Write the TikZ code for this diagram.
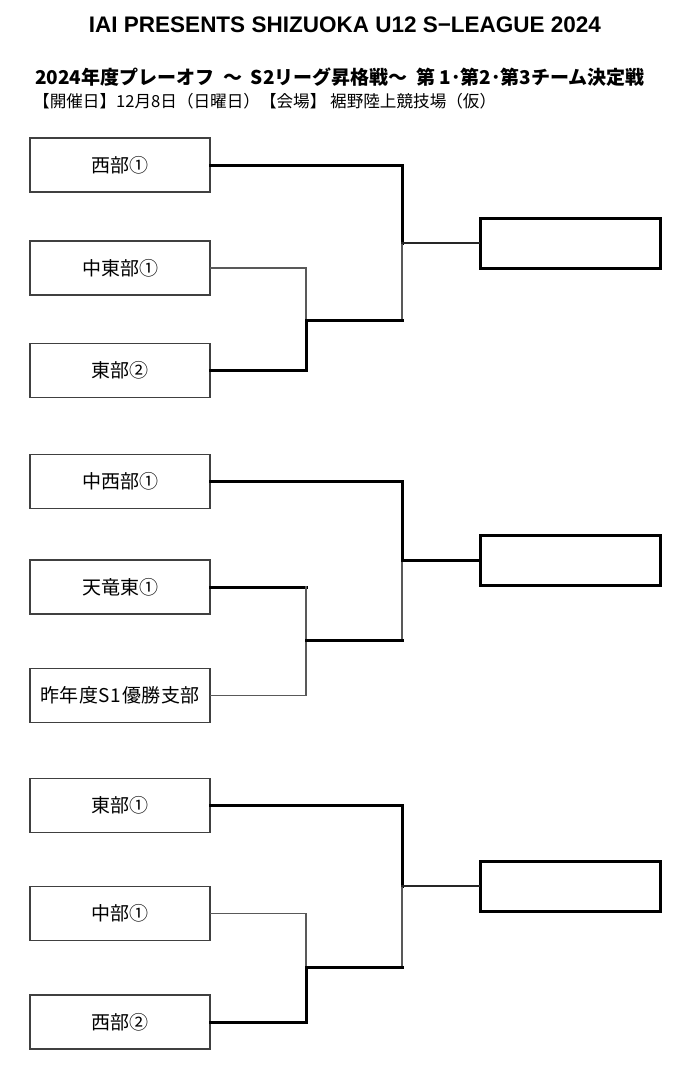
\documentclass[tikz,border=0pt]{standalone}
\usepackage{fontspec}
\setmainfont{Liberation Sans}
\newfontfamily\jp{Noto Sans CJK JP}
\begin{document}
\begin{tikzpicture}[x=1pt,y=-1pt,
  team/.style={draw=black!75, line width=1.5pt, minimum width=180pt, minimum height=54pt, inner sep=0pt, font=\jp\fontsize{19}{21}\selectfont},
  winner/.style={draw=black, line width=3pt, minimum width=180pt, minimum height=50pt, inner sep=0pt},
  thinln/.style={draw=black!65, line width=1.5pt, line cap=rect},
  thickln/.style={draw=black, line width=3pt, line cap=rect},
  medln/.style={draw=black!85, line width=2.2pt, line cap=rect}]
\useasboundingbox (0,0) rectangle (697,1066);
% headings
\node[font=\bfseries\fontsize{22.5}{24}\selectfont, inner sep=0pt] (title) at (345,25) {IAI PRESENTS SHIZUOKA U12 S−LEAGUE 2024};
\node[font=\jp\bfseries\fontsize{19}{21}\selectfont, anchor=west, inner sep=0pt] (sub) at (35,77) {2024年度プレーオフ\ \ ～\ \ S2リーグ昇格戦～\ \ 第\ 1･第2･第3チーム決定戦};
\node[font=\jp\fontsize{16.6}{18}\selectfont, anchor=west, inner sep=0pt] (date) at (33,101) {【開催日】12月8日（日曜日）【会場】 裾野陸上競技場（仮）};
% group 1
\node[team] (a1) at (120,165) {西部①};
\node[team] (a2) at (120,268) {中東部①};
\node[team] (a3) at (120,370.5) {東部②};
\node[winner] (w1) at (570,243) {};
\coordinate (a0) at (402,243);
\coordinate (a12) at (306,320);
\draw[thickln] (a1.east) -| (a0);
\draw[thinln] (a0) -- (a0 |- a12);
\draw[thinln] (a2.east) -| (a12);
\draw[thickln] (a3.east) -| (a12);
\draw[thickln] (a12) -- (a0 |- a12);
\draw[medln] (a0) -- (w1.west);
% group 2
\node[team] (b1) at (120,481.5) {中西部①};
\node[team] (b2) at (120,587) {天竜東①};
\node[team] (b3) at (120,695.5) {\makebox[160pt][s]{昨\hfill 年\hfill 度\hfill S\hfill 1\hfill 優\hfill 勝\hfill 支\hfill 部}};
\node[winner] (w2) at (570,560) {};
\coordinate (b0) at (402,560);
\coordinate (b12) at (306,640);
\draw[thickln] (b1.east) -| (b0);
\draw[thinln] (b0) -- (b0 |- b12);
\draw[thickln] (b2.east) -- (b2.east -| b12);
\draw[thinln] (b3.east) -| (b2.east -| b12);
\draw[thickln] (b12) -- (b0 |- b12);
\draw[thickln] (b0) -- (w2.west);
% group 3
\node[team] (c1) at (120,805.5) {東部①};
\node[team] (c2) at (120,913.5) {中部①};
\node[team] (c3) at (120,1022) {西部②};
\node[winner] (w3) at (570,886) {};
\coordinate (c0) at (402,886);
\coordinate (c12) at (306,967);
\draw[thickln] (c1.east) -| (c0);
\draw[thinln] (c0) -- (c0 |- c12);
\draw[thinln] (c2.east) -| (c12);
\draw[thickln] (c3.east) -| (c12);
\draw[thickln] (c12) -- (c0 |- c12);
\draw[medln] (c0) -- (w3.west);
\end{tikzpicture}
\end{document}
